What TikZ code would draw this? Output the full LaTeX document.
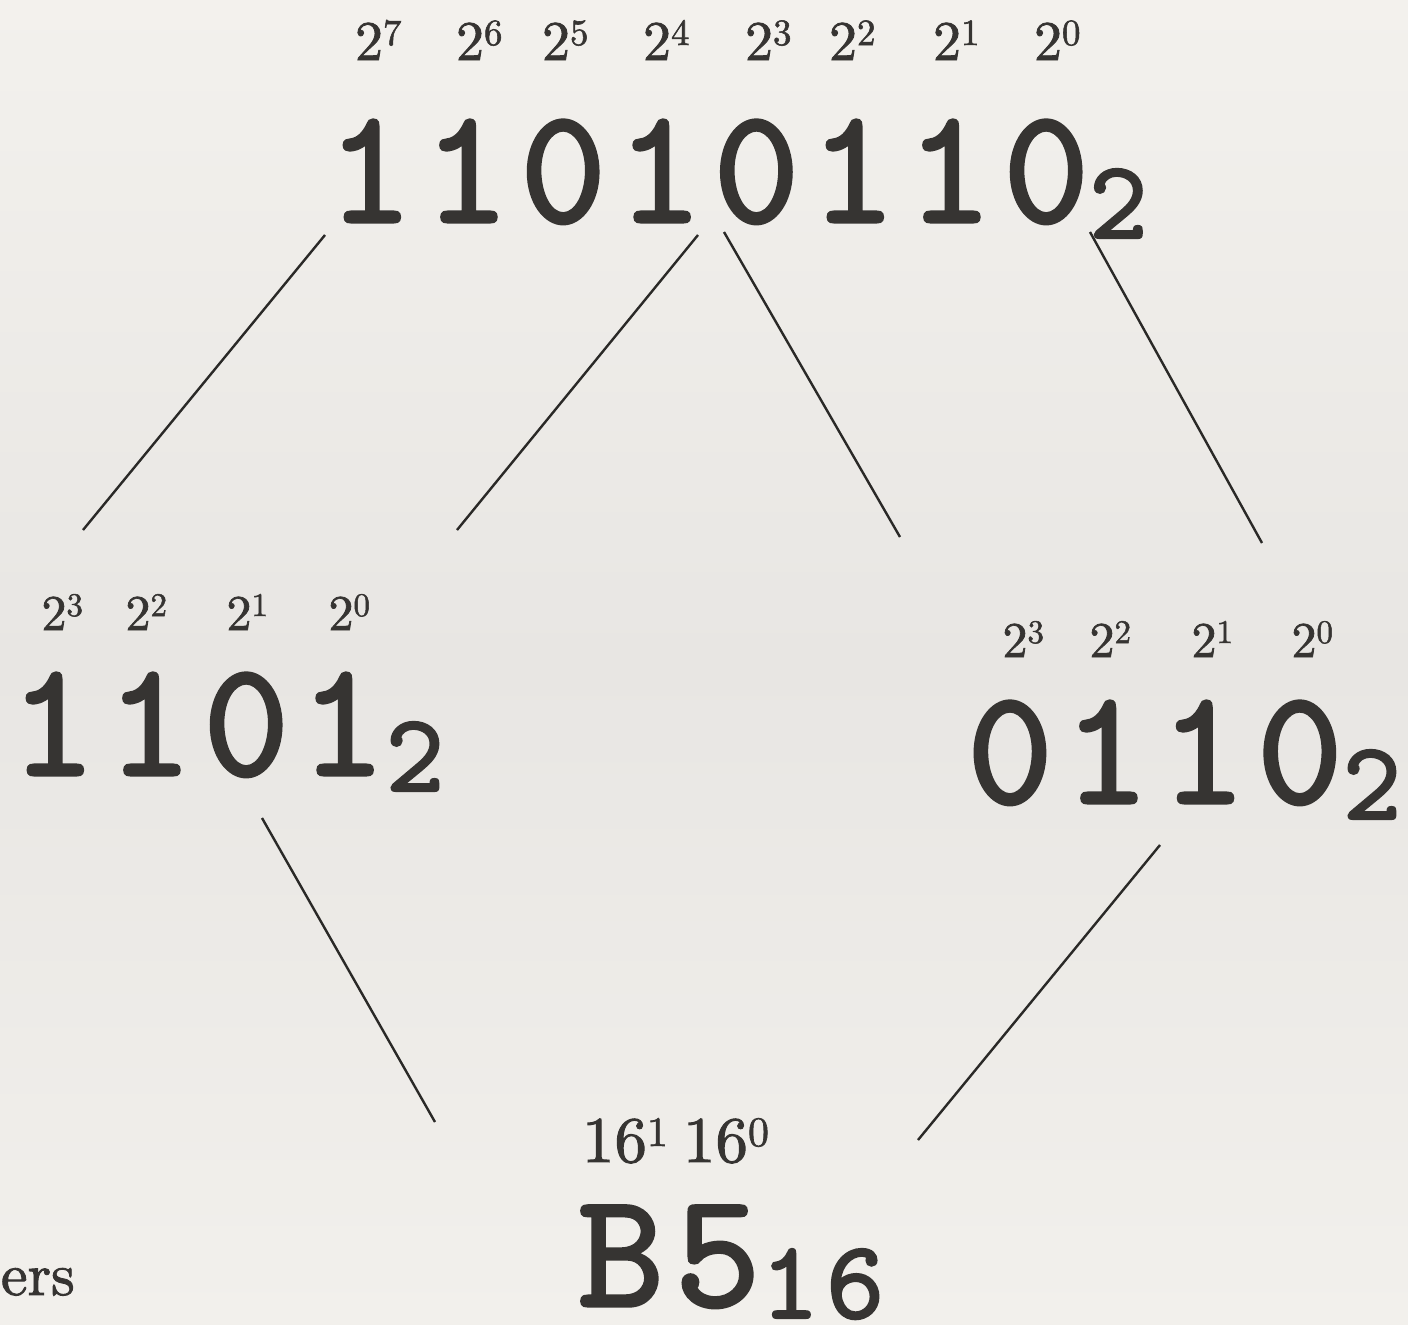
\documentclass[tikz,border=0pt]{standalone}
\usepackage{fontspec}
\setmainfont{lmroman10-regular.otf}[FakeBold=1.5]
\newfontfamily\bigmono{lmmono10-regular.otf}[LetterSpace=6.4, FakeBold=2]
\definecolor{ink}{HTML}{363432}
\definecolor{linec}{HTML}{2A2927}
\definecolor{bgtop}{HTML}{F3F1ED}
\definecolor{bgmid}{HTML}{E8E6E3}
\definecolor{bgbot}{HTML}{F2F0EC}
\newcommand\bigfont{\bigmono\fontsize{164}{164}\selectfont}
\newcommand\subfont{\bigmono\fontsize{111}{111}\selectfont}
\newcommand\pwA[2]{{\fontsize{56}{56}\selectfont #1\raisebox{15pt}{\fontsize{37}{37}\selectfont #2}}}
\newcommand\pwB[2]{{\fontsize{50}{50}\selectfont #1\raisebox{14pt}{\fontsize{33}{33}\selectfont #2}}}
\newcommand\pwC[2]{{\fontsize{65}{65}\selectfont #1\raisebox{16pt}{\fontsize{42}{42}\selectfont #2}}}
\begin{document}
\begin{tikzpicture}[x=1pt,y=-1pt,
  every node/.style={inner sep=0pt, outer sep=0pt, text=ink},
  conn/.style={draw=linec, line width=2.4pt}]
\shade[top color=bgtop, bottom color=bgbot, middle color=bgmid] (0,0) rectangle (1408,1325);
\useasboundingbox (0,0) rectangle (1408,1325);

% superscript weights
\foreach \c/\e [count=\i] in {369/7,470/6,556/5,657/4,759/3,843/2,947/1,1048/0}
  \node[anchor=base west] (tp\i) at (\c-14,60) {\pwA{2}{\e}};
\foreach \c/\e [count=\i] in {54/3,138/2,239/1,341/0}
  \node[anchor=base west] (lp\i) at (\c-12.5,630) {\pwB{2}{\e}};
\foreach \c/\e [count=\i] in {1015/3,1102/2,1204/1,1304/0}
  \node[anchor=base west] (rp\i) at (\c-12.5,657) {\pwB{2}{\e}};
\node[anchor=base west] (hp1) at (582,1162) {\pwC{16}{1}};
\node[anchor=base west] (hp0) at (683,1162) {\pwC{16}{0}};

% numbers
\node[anchor=base west] (top) at (327,222) {\bigfont 11010110\raisebox{-16pt}{\subfont 2}};
\node[anchor=base west] (left) at (10,775) {\bigfont 1101\raisebox{-16pt}{\subfont 2}};
\node[anchor=base west] (right) at (967,803) {\bigfont 0110\raisebox{-16pt}{\subfont 2}};
\node[anchor=base west] (hex) at (578,1306) {\bigfont B5\raisebox{-12pt}{\subfont 16}};

\node[anchor=base west] (ers) at (1,1295) {\fontsize{60}{60}\selectfont ers};

% connector end points
\coordinate (a1) at (325,235); \coordinate (a2) at (83,530);
\coordinate (b1) at (698,235); \coordinate (b2) at (457,530);
\coordinate (c1) at (724,232); \coordinate (c2) at (900,537);
\coordinate (d1) at (1090,232); \coordinate (d2) at (1262,543);
\coordinate (e1) at (262,818); \coordinate (e2) at (435,1122);
\coordinate (f1) at (1160,845); \coordinate (f2) at (918,1140);
\draw[conn] (a1) -- (a2);
\draw[conn] (b1) -- (b2);
\draw[conn] (c1) -- (c2);
\draw[conn] (d1) -- (d2);
\draw[conn] (e1) -- (e2);
\draw[conn] (f1) -- (f2);
\end{tikzpicture}
\end{document}
